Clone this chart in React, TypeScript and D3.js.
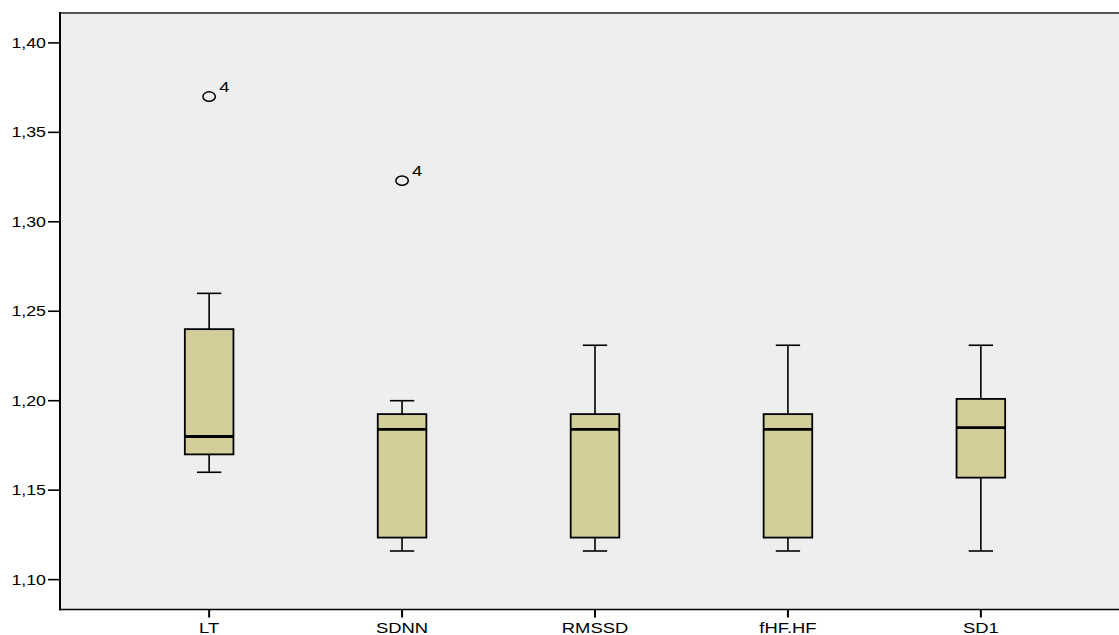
import React, { useEffect } from "react";
import * as d3 from "d3";

// Box-plot summaries per measure
const categories = ["LT", "SDNN", "RMSSD", "fHF.HF", "SD1"];
const whiskerLow = [1.16, 1.116, 1.116, 1.116, 1.116];
const quartile1 = [1.17, 1.1235, 1.1235, 1.1235, 1.157];
const medians = [1.18, 1.184, 1.184, 1.184, 1.185];
const quartile3 = [1.24, 1.1925, 1.1925, 1.1925, 1.201];
const whiskerHigh = [1.26, 1.2, 1.231, 1.231, 1.231];

// Outlying cases: category, value, case label
const outlierCategory = ["LT", "SDNN"];
const outlierValue = [1.37, 1.323];
const outlierLabel = ["4", "4"];

const yTicks = [1.1, 1.15, 1.2, 1.25, 1.3, 1.35, 1.4];

const W = 1119;
const H = 635;
const FONT = "'Liberation Sans', Arial, sans-serif";
const STRETCH = 1.27;

export default function App() {
  useEffect(() => {
    document.body.style.margin = "0";
    document.body.style.background = "#ffffff";
  }, []);

  const left = 60;
  const right = 1130;
  const top = 13;
  const bottom = 609.5;

  const x = d3.scaleBand<string>().domain(categories).range([left, right]).paddingInner(0).paddingOuter(0.273);
  const y = d3.scaleLinear().domain([1.0833, 1.4167]).range([bottom, top]);
  const fmt = (v: number) => d3.format(".2f")(v).replace(".", ",");

  const boxW = x.bandwidth() * 0.252;
  const capW = boxW / 2;

  return (
    <div style={{ position: "absolute", left: 0, top: 0 }}>
      <svg width={W} height={H} style={{ display: "block" }}>
        <rect x={0} y={0} width={W} height={H} fill="#ffffff" />
        <rect x={left} y={top} width={right - left} height={bottom - top} fill="#EEEEEE" />
        <line x1={left} x2={right} y1={top} y2={top} stroke="#555555" strokeWidth={2} />

        {categories.map((c, i) => {
          const cx = (x(c) as number) + x.bandwidth() / 2;
          return (
            <g key={c}>
              <line x1={cx} x2={cx} y1={y(whiskerHigh[i])} y2={y(quartile3[i])} stroke="#000" strokeWidth={1.6} />
              <line x1={cx} x2={cx} y1={y(quartile1[i])} y2={y(whiskerLow[i])} stroke="#000" strokeWidth={1.6} />
              <line x1={cx - capW / 2} x2={cx + capW / 2} y1={y(whiskerHigh[i])} y2={y(whiskerHigh[i])} stroke="#000" strokeWidth={1.6} />
              <line x1={cx - capW / 2} x2={cx + capW / 2} y1={y(whiskerLow[i])} y2={y(whiskerLow[i])} stroke="#000" strokeWidth={1.6} />
              <rect
                x={cx - boxW / 2}
                y={y(quartile3[i])}
                width={boxW}
                height={y(quartile1[i]) - y(quartile3[i])}
                fill="#D3CE99"
                stroke="#000"
                strokeWidth={1.8}
              />
              <line x1={cx - boxW / 2} x2={cx + boxW / 2} y1={y(medians[i])} y2={y(medians[i])} stroke="#000" strokeWidth={2.8} />
            </g>
          );
        })}

        {outlierCategory.map((c, i) => {
          const cx = (x(c) as number) + x.bandwidth() / 2;
          const cy = y(outlierValue[i]);
          return (
            <g key={"o" + i}>
              <ellipse cx={cx} cy={cy} rx={6.2} ry={4.7} fill="none" stroke="#000" strokeWidth={1.5} />
              <text
                transform={`translate(${cx + 10},${cy - 5}) scale(${STRETCH},1)`}
                fontFamily={FONT}
                fontSize={14.5}
                fill="#000"
              >
                {outlierLabel[i]}
              </text>
            </g>
          );
        })}

        {/* Y axis */}
        <line x1={left} x2={left} y1={top - 1} y2={bottom + 1} stroke="#000" strokeWidth={2} />
        {yTicks.map((t) => (
          <g key={t}>
            <line x1={left - 12} x2={left} y1={y(t)} y2={y(t)} stroke="#000" strokeWidth={1.6} />
            <text
              transform={`translate(${left - 14},${y(t) + 5}) scale(${STRETCH},1)`}
              textAnchor="end"
              fontFamily={FONT}
              fontSize={14}
              fill="#000"
            >
              {fmt(t)}
            </text>
          </g>
        ))}

        {/* X axis */}
        <line x1={left} x2={right} y1={bottom} y2={bottom} stroke="#000" strokeWidth={1.6} />
        {categories.map((c) => {
          const cx = (x(c) as number) + x.bandwidth() / 2;
          return (
            <g key={"x" + c}>
              <line x1={cx} x2={cx} y1={bottom} y2={bottom + 8} stroke="#000" strokeWidth={2} />
              <text
                transform={`translate(${cx},${bottom + 23}) scale(${STRETCH},1)`}
                textAnchor="middle"
                fontFamily={FONT}
                fontSize={14.5}
                fill="#000"
              >
                {c}
              </text>
            </g>
          );
        })}
      </svg>
    </div>
  );
}
